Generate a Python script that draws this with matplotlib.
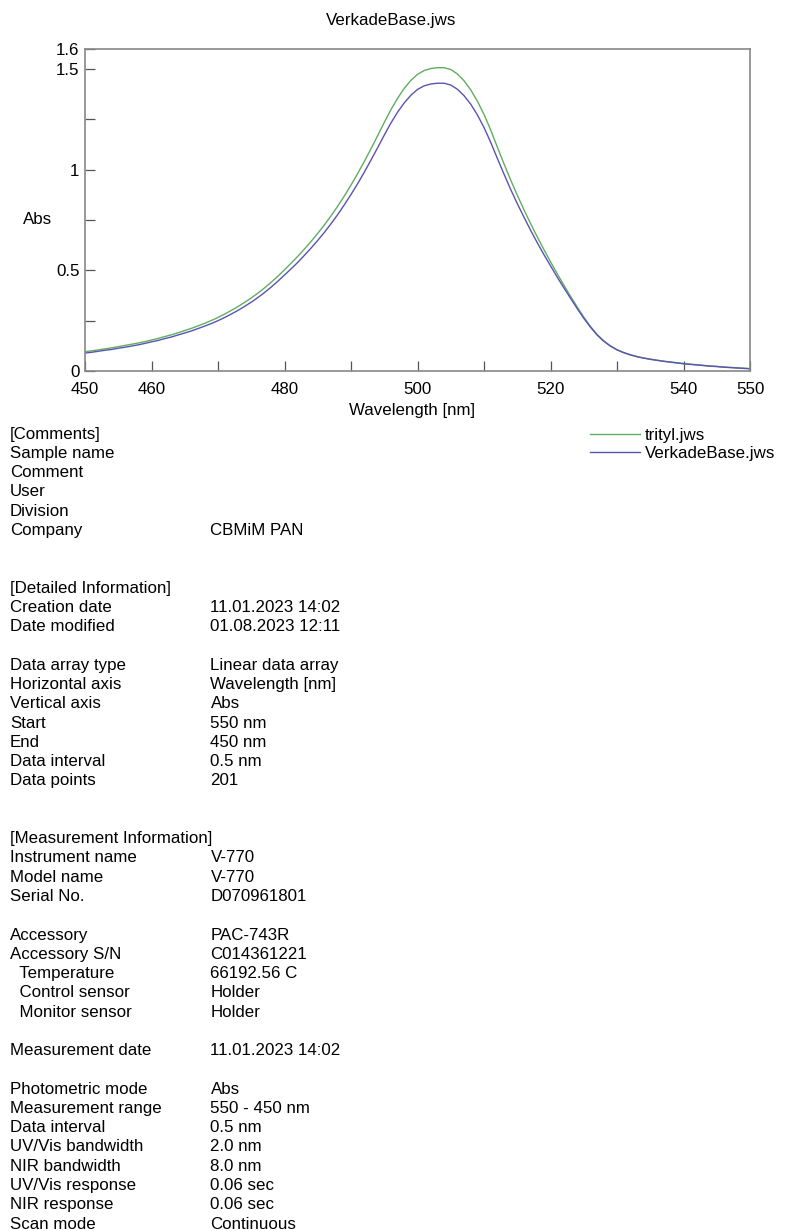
import matplotlib
matplotlib.use("Agg")
import matplotlib.pyplot as plt

plt.rcParams['font.family'] = ['Liberation Sans', 'DejaVu Sans']

# ---- data ----
wavelength = list(range(450, 551, 1))
trityl = [
    0.096, 0.100, 0.105, 0.110, 0.115, 0.121, 0.127, 0.133, 0.139, 0.146,
    0.154, 0.162, 0.171, 0.180, 0.190, 0.201, 0.212, 0.224, 0.237, 0.251,
    0.266, 0.283, 0.301, 0.320, 0.341, 0.363, 0.387, 0.413, 0.441, 0.471,
    0.503, 0.536, 0.570, 0.606, 0.644, 0.684, 0.726, 0.771, 0.819, 0.870,
    0.924, 0.981, 1.041, 1.104, 1.169, 1.235, 1.298, 1.355, 1.404, 1.444,
    1.474, 1.493, 1.503, 1.507, 1.507, 1.498, 1.476, 1.442, 1.397, 1.341,
    1.275, 1.198, 1.113, 1.030, 0.950, 0.874, 0.802, 0.733, 0.667, 0.604,
    0.543, 0.484, 0.427, 0.372, 0.319, 0.268, 0.222, 0.182, 0.150, 0.125,
    0.106, 0.092, 0.081, 0.072, 0.065, 0.059, 0.054, 0.049, 0.045, 0.041,
    0.037, 0.034, 0.031, 0.028, 0.025, 0.023, 0.020, 0.018, 0.016, 0.014,
    0.012]
verkade = [
    0.089, 0.093, 0.098, 0.103, 0.107, 0.113, 0.118, 0.124, 0.130, 0.137,
    0.145, 0.152, 0.161, 0.169, 0.179, 0.189, 0.199, 0.211, 0.223, 0.236,
    0.250, 0.266, 0.283, 0.301, 0.321, 0.342, 0.365, 0.390, 0.417, 0.446,
    0.477, 0.508, 0.540, 0.575, 0.611, 0.649, 0.689, 0.732, 0.777, 0.826,
    0.877, 0.931, 0.988, 1.048, 1.109, 1.172, 1.232, 1.286, 1.332, 1.370,
    1.399, 1.417, 1.426, 1.430, 1.430, 1.421, 1.400, 1.368, 1.326, 1.273,
    1.210, 1.137, 1.057, 0.979, 0.903, 0.832, 0.765, 0.700, 0.638, 0.579,
    0.523, 0.467, 0.414, 0.362, 0.311, 0.262, 0.218, 0.179, 0.148, 0.124,
    0.105, 0.091, 0.080, 0.071, 0.064, 0.058, 0.053, 0.048, 0.044, 0.040,
    0.036, 0.033, 0.030, 0.027, 0.024, 0.022, 0.019, 0.017, 0.015, 0.013,
    0.011]
series_names = ["trityl.jws", "VerkadeBase.jws"]
series_colors = ["#5fae5f", "#5a52b4"]

x_ticks = list(range(450, 551, 10))
x_tick_labels = ["450", "460", "", "480", "", "500", "", "520", "", "540", "550"]
y_ticks = [0, 0.25, 0.5, 0.75, 1.0, 1.25, 1.5, 1.6]
y_tick_labels = ["0", "", "0.5", "", "1", "", "1.5", "1.6"]

title = "VerkadeBase.jws"
x_label = "Wavelength [nm]"
y_label = "Abs"

info_rows = [
    ("[Comments]", ""),
    ("Sample name", ""),
    ("Comment", ""),
    ("User", ""),
    ("Division", ""),
    ("Company", "CBMiM PAN"),
    None, None,
    ("[Detailed Information]", ""),
    ("Creation date", "11.01.2023 14:02"),
    ("Date modified", "01.08.2023 12:11"),
    None,
    ("Data array type", "Linear data array"),
    ("Horizontal axis", "Wavelength [nm]"),
    ("Vertical axis", "Abs"),
    ("Start", "550 nm"),
    ("End", "450 nm"),
    ("Data interval", "0.5 nm"),
    ("Data points", "201"),
    None, None,
    ("[Measurement Information]", ""),
    ("Instrument name", "V-770"),
    ("Model name", "V-770"),
    ("Serial No.", "D070961801"),
    None,
    ("Accessory", "PAC-743R"),
    ("Accessory S/N", "C014361221"),
    ("  Temperature", "66192.56 C"),
    ("  Control sensor", "Holder"),
    ("  Monitor sensor", "Holder"),
    None,
    ("Measurement date", "11.01.2023 14:02"),
    None,
    ("Photometric mode", "Abs"),
    ("Measurement range", "550 - 450 nm"),
    ("Data interval", "0.5 nm"),
    ("UV/Vis bandwidth", "2.0 nm"),
    ("NIR bandwidth", "8.0 nm"),
    ("UV/Vis response", "0.06 sec"),
    ("NIR response", "0.06 sec"),
    ("Scan mode", "Continuous"),
]

# ---- figure ----
W, H = 790, 1231
FS = 12.2
fig = plt.figure(figsize=(W / 100, H / 100), dpi=100)
ax = fig.add_axes([85 / W, 1 - 371 / H, 665 / W, 322 / H])

lines = []
for vals, name, col in zip([trityl, verkade], series_names, series_colors):
    ln, = ax.plot(wavelength, vals, color=col, lw=1.0, label=name)
    lines.append(ln)

ax.set_xlim(450, 550)
ax.set_ylim(0, 1.6)
ax.set_xticks(x_ticks)
ax.set_xticklabels(x_tick_labels)
ax.set_yticks(y_ticks)
ax.set_yticklabels(y_tick_labels)
ax.tick_params(direction='in', length=7, width=0.9, color='#555555',
               labelsize=FS, labelcolor='black')
ax.tick_params(axis='x', pad=8)
ax.tick_params(axis='y', pad=4)
for sp in ax.spines.values():
    sp.set_color('#888888')
    sp.set_linewidth(1.2)

ax.set_xlabel(x_label, fontsize=FS, va='center')
ax.xaxis.set_label_coords((412 - 85) / 665, -(411 - 371) / 322)
ax.set_ylabel(y_label, fontsize=FS, rotation=0, va='center', ha='center')
ax.yaxis.set_label_coords((38 - 85) / 665, (371 - 220) / 322)

fig.text(391.5 / W, 1 - 21 / H, title, fontsize=FS, ha='center', va='center')

fig.legend(handles=lines, loc='upper left',
           bbox_to_anchor=(590 / W, 1 - 428 / H), frameon=False,
           fontsize=FS, handlelength=2.95, handletextpad=0.3,
           borderpad=0, borderaxespad=0, labelspacing=0.15)

y0, dy = 434.0, 19.27
for i, row in enumerate(info_rows):
    if row is None:
        continue
    lab, val = row
    yy = 1 - (y0 + i * dy) / H
    fig.text(10 / W, yy, lab, fontsize=FS, ha='left', va='center')
    if val:
        fig.text(210.5 / W, yy, val, fontsize=FS, ha='left', va='center')

fig.savefig("out.png", dpi=100)
